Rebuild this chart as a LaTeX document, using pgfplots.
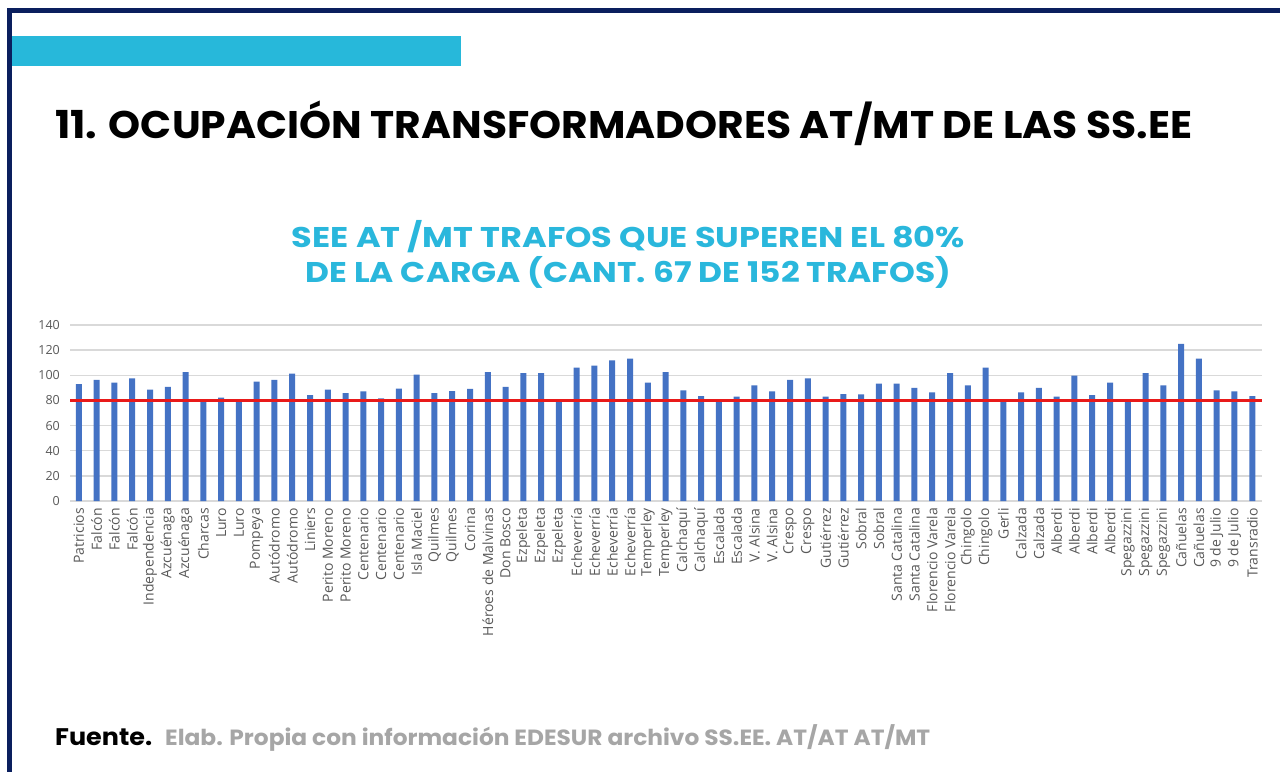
\documentclass[border=0pt]{standalone}
\usepackage{fontspec}
\setmainfont{Open Sans}
\newfontfamily\poppins{Poppins}
\usepackage{graphicx}
\usepackage{pgfplots}
\pgfplotsset{compat=1.18}
\usepackage{pgfplotstable}

\definecolor{navy}{HTML}{0A1F5E}
\definecolor{cyanbar}{HTML}{27B8DA}
\definecolor{cyantitle}{HTML}{2AB7DC}
\definecolor{barblue}{HTML}{4472C4}
\definecolor{gridgray}{HTML}{D9D9D9}
\definecolor{ticktext}{HTML}{595959}
\definecolor{footgray}{HTML}{A6A6A6}
\definecolor{refred}{HTML}{E81A1A}

\pgfplotstableread{
idx value
0 93.0
1 96.3
2 94.1
3 97.6
4 88.6
5 90.7
6 102.6
7 79.3
8 82.2
9 79.3
10 94.9
11 96.3
12 101.3
13 84.3
14 88.6
15 85.9
16 87.2
17 81.7
18 89.4
19 100.5
20 85.9
21 87.5
22 89.1
23 102.6
24 90.7
25 101.8
26 101.8
27 80.9
28 106.1
29 107.7
30 111.9
31 113.2
32 94.1
33 102.6
34 88.0
35 83.5
36 80.9
37 83.0
38 92.0
39 87.2
40 96.3
41 97.6
42 83.0
43 85.0
44 84.9
45 93.3
46 93.3
47 89.9
48 86.4
49 101.8
50 92.0
51 106.1
52 79.3
53 86.4
54 89.9
55 83.0
56 99.7
57 84.3
58 94.1
59 79.3
60 101.8
61 92.0
62 124.9
63 113.2
64 88.0
65 87.2
66 83.5
}\trafos

\begin{document}
\begin{tikzpicture}[x=1pt,y=1pt]
\fill[white] (0,0) rectangle (1280,772);
\fill[navy] (7,759) rectangle (1280,764);
\fill[navy] (7,0) rectangle (12,764);
\fill[cyanbar] (12,706) rectangle (461,736);

\node[anchor=base west, inner sep=0pt] at (55,633)
  {\resizebox{1137pt}{\height}{\poppins\bfseries\fontsize{38.5}{40}\selectfont 11. OCUPACIÓN TRANSFORMADORES AT/MT DE LAS SS.EE}};

\node[anchor=base, inner sep=0pt, text=cyantitle] at (628.5,524)
  {\resizebox{673pt}{\height}{\poppins\bfseries\fontsize{28.5}{30}\selectfont SEE AT /MT TRAFOS QUE SUPEREN EL 80\%}};
\node[anchor=base, inner sep=0pt, text=cyantitle] at (628.5,489)
  {\resizebox{646pt}{\height}{\poppins\bfseries\fontsize{28.5}{30}\selectfont DE LA CARGA (CANT. 67 DE 152 TRAFOS)}};

\node[anchor=base west, inner sep=0pt] at (55,27)
  {\resizebox{97pt}{\height}{\poppins\bfseries\fontsize{24}{26}\selectfont Fuente.}};
\node[anchor=base west, inner sep=0pt, text=footgray] at (165,27)
  {\resizebox{765pt}{\height}{\poppins\bfseries\fontsize{22}{24}\selectfont Elab. Propia con información EDESUR archivo SS.EE. AT/AT AT/MT}};

\begin{axis}[
  at={(70pt,271pt)}, anchor=south west,
  scale only axis, width=1192pt, height=176pt,
  xmin=-0.5, xmax=66.55, ymin=0, ymax=140,
  ytick={0,20,...,140},
  xtick={0,1,...,66},
  xticklabels={Patricios, Falcón, Falcón, Falcón, Independencia, Azcuénaga, Azcuénaga, Charcas, Luro, Luro, Pompeya, Autódromo, Autódromo, Liniers, Perito Moreno, Perito Moreno, Centenario, Centenario, Centenario, Isla Maciel, Quilmes, Quilmes, Corina, Héroes de Malvinas, Don Bosco, Ezpeleta, Ezpeleta, Ezpeleta, Echeverría, Echeverría, Echeverría, Echeverría, Temperley, Temperley, Calchaquí, Calchaquí, Escalada, Escalada, V. Alsina, V. Alsina, Crespo, Crespo, Gutiérrez, Gutiérrez, Sobral, Sobral, Santa Catalina, Santa Catalina, Florencio Varela, Florencio Varela, Chingolo, Chingolo, Gerli, Calzada, Calzada, Alberdi, Alberdi, Alberdi, Alberdi, Spegazzini, Spegazzini, Spegazzini, Cañuelas, Cañuelas, 9 de Julio, 9 de Julio, Transradio},
  /pgf/number format/assume math mode=true,
  xticklabel style={rotate=90, anchor=east, inner sep=0pt, font=\fontsize{14}{15}\selectfont, text=ticktext},
  yticklabel style={inner sep=0pt, font=\fontsize{12.5}{14}\selectfont, text=ticktext},
  xticklabel shift=7pt,
  yticklabel shift=10pt,
  major tick length=0pt,
  tick style={draw=none},
  axis line style={draw=none},
  ymajorgrids,
  grid style={draw=gridgray, line width=1.3pt},
  clip=false,
]
\addplot[ybar, bar width=6pt, bar shift=0pt, fill=barblue, draw=none] table[x=idx, y=value] {\trafos};
\addplot[refred, line width=2.8pt] coordinates {(-0.5,80) (66.55,80)};
\end{axis}
\end{tikzpicture}
\end{document}
